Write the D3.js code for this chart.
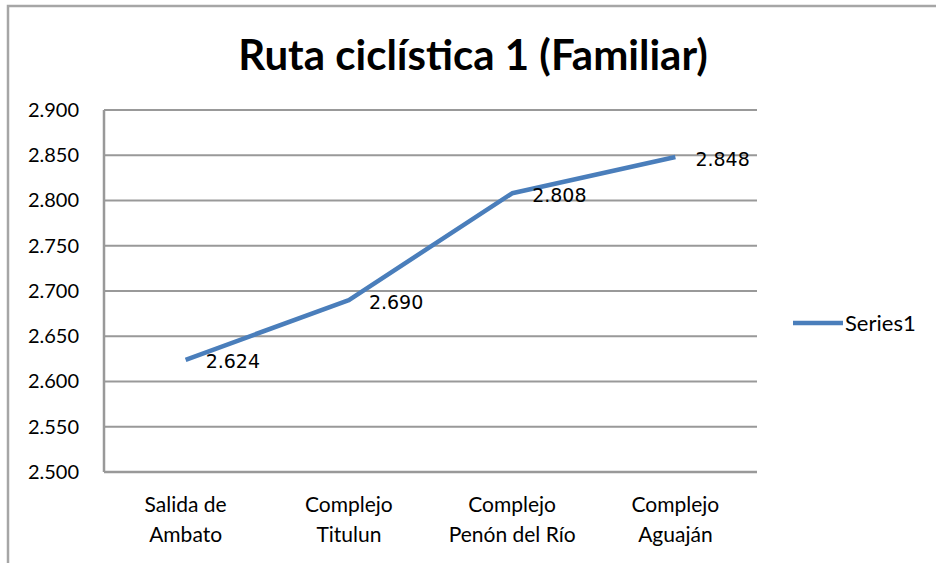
<!DOCTYPE html>
<html>
<head>
<meta charset="utf-8">
<script src="https://cdn.jsdelivr.net/npm/d3@7"></script>
<style>
  html, body { margin: 0; padding: 0; background: #fff; }
  svg { display: block; }
</style>
</head>
<body>
<svg id="chart" width="936" height="563"></svg>
<script>
// Chart data
const title = "Ruta ciclística 1 (Familiar)";
const categories = [
  ["Salida de", "Ambato"],
  ["Complejo", "Titulun"],
  ["Complejo", "Penón del Río"],
  ["Complejo", "Aguaján"]
];
const seriesName = "Series1";
const values = [2.624, 2.690, 2.808, 2.848];
const yTicks = [2.5, 2.55, 2.6, 2.65, 2.7, 2.75, 2.8, 2.85, 2.9];

const fmt = v => d3.format(".3f")(v);
const uiFont = "Lato, 'Open Sans', sans-serif";

const svg = d3.select("#chart");
const W = 936, H = 563;
const plot = { left: 104, right: 757, top: 110, bottom: 472 };

// Outer chart frame
svg.append("rect")
  .attr("x", 8).attr("y", 6)
  .attr("width", W + 20).attr("height", H + 20)
  .attr("fill", "#fff")
  .attr("stroke", "#a6a6a6").attr("stroke-width", 2.5);

// Title
svg.append("text")
  .attr("x", 473).attr("y", 70)
  .attr("text-anchor", "middle")
  .attr("font-family", uiFont)
  .attr("font-weight", "bold")
  .attr("font-size", 42)
  .attr("fill", "#000")
  .text(title);

const x = d3.scaleBand()
  .domain(d3.range(categories.length))
  .range([plot.left, plot.right]);

const y = d3.scaleLinear()
  .domain([2.5, 2.9])
  .range([plot.bottom, plot.top]);

// Horizontal gridlines
svg.append("g")
  .selectAll("line")
  .data(yTicks)
  .join("line")
  .attr("x1", plot.left).attr("x2", plot.right)
  .attr("y1", d => y(d)).attr("y2", d => y(d))
  .attr("stroke", "#999").attr("stroke-width", 2);

// Y axis labels
const yAxis = svg.append("g")
  .attr("transform", `translate(${plot.left},0)`)
  .call(d3.axisLeft(y).tickValues(yTicks).tickFormat(fmt).tickSize(0).tickPadding(25));
yAxis.select(".domain").remove();
yAxis.selectAll("text")
  .attr("font-family", uiFont)
  .attr("font-size", 20)
  .attr("fill", "#000");

// Axis lines
svg.append("line")
  .attr("x1", plot.left).attr("x2", plot.left)
  .attr("y1", plot.top).attr("y2", plot.bottom)
  .attr("stroke", "#999").attr("stroke-width", 2.5);
svg.append("line")
  .attr("x1", plot.left).attr("x2", plot.right)
  .attr("y1", plot.bottom).attr("y2", plot.bottom)
  .attr("stroke", "#999").attr("stroke-width", 2.5);

// Category labels (two lines each)
const catG = svg.append("g")
  .selectAll("text")
  .data(categories)
  .join("text")
  .attr("x", (d, i) => x(i) + x.bandwidth() / 2)
  .attr("y", 512)
  .attr("text-anchor", "middle")
  .attr("font-family", uiFont)
  .attr("font-size", 21)
  .attr("fill", "#000");
catG.selectAll("tspan")
  .data(d => d)
  .join("tspan")
  .attr("x", function () { return d3.select(this.parentNode).attr("x"); })
  .attr("dy", (d, i) => i === 0 ? 0 : 30)
  .text(d => d);

// Series line
const line = d3.line()
  .x((d, i) => x(i) + x.bandwidth() / 2)
  .y(d => y(d));

svg.append("path")
  .datum(values)
  .attr("d", line)
  .attr("fill", "none")
  .attr("stroke", "#4a7ebb")
  .attr("stroke-width", 4.5)
  .attr("stroke-linejoin", "round");

// Data labels
svg.append("g")
  .selectAll("text")
  .data(values)
  .join("text")
  .attr("x", (d, i) => x(i) + x.bandwidth() / 2 + 20)
  .attr("y", d => y(d) + 2)
  .attr("dy", "0.35em")
  .attr("font-family", "'DejaVu Sans', Verdana, sans-serif")
  .attr("font-size", 19)
  .attr("fill", "#000")
  .text(fmt);

// Legend
const lg = svg.append("g");
lg.append("line")
  .attr("x1", 793).attr("x2", 843)
  .attr("y1", 323).attr("y2", 323)
  .attr("stroke", "#4a7ebb").attr("stroke-width", 4.5);
lg.append("text")
  .attr("x", 845).attr("y", 323)
  .attr("dy", "0.35em")
  .attr("font-family", uiFont)
  .attr("font-size", 22)
  .attr("fill", "#000")
  .text(seriesName);
</script>
</body>
</html>
